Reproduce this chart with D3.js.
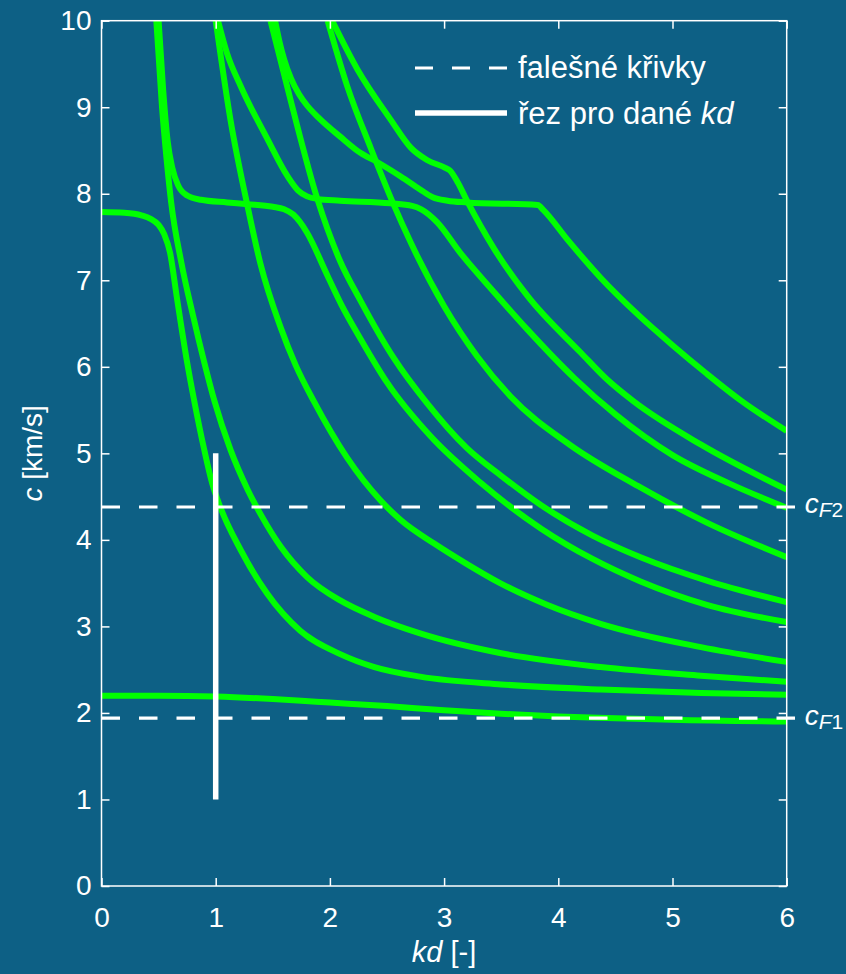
<!DOCTYPE html>
<meta charset="utf-8">
<style>
  body { margin: 0; background: #0d6085; }
  svg text { font-family: "Liberation Sans", Arial, Helvetica, sans-serif; fill: #fff; }
  .axis line { stroke: #fff; stroke-width: 1.5; }
  .axis text { font-size: 28px; }
</style>
<script src="https://d3js.org/d3.v7.min.js"></script>
<div id="chart"></div>
<script>
// tick values
var xTicks = [0, 1, 2, 3, 4, 5, 6];
var yTicks = [0, 1, 2, 3, 4, 5, 6, 7, 8, 9, 10];

// dispersion curves, [kd, c]
var curveBase = [[0,2.2],[0.5,2.2],[1,2.19],[1.5,2.16],[1.75,2.14],[2,2.12],[2.5,2.08],[3,2.03],[3.5,1.99],[4,1.96],[4.5,1.94],[5,1.92],[6,1.9]];
var curveA = [[0,7.79],[0.2,7.78],[0.35,7.75],[0.43,7.71],[0.5,7.64],[0.55,7.53],[0.6,7.32],[0.66,6.8],[0.75,6.05],[0.81,5.62],[0.9,5.04],[0.97,4.65],[1.04,4.38],[1.22,3.88],[1.45,3.38],[1.74,2.95],[2.09,2.68],[2.39,2.53],[2.79,2.42],[3.5,2.33],[4.37,2.27],[5.25,2.23],[6,2.21]];
var curveB = [[0.48,10],[0.53,9.0],[0.57,8.4],[0.61,7.9],[0.7,7.2],[0.8,6.6],[0.9,6.05],[0.99,5.6],[1.13,5.04],[1.28,4.58],[1.4,4.28],[1.57,3.92],[1.8,3.57],[2.09,3.3],[2.39,3.11],[2.79,2.92],[3.5,2.69],[4.37,2.53],[5.25,2.43],[6,2.36]];
var curveC = [[0.5,10],[0.54,9.2],[0.58,8.6],[0.62,8.3],[0.67,8.1],[0.75,7.98],[0.87,7.93],[1.1,7.9],[1.28,7.88],[1.5,7.85],[1.6,7.82],[1.68,7.76],[1.74,7.67],[1.8,7.55],[1.98,7.05],[2.1,6.72],[2.27,6.32],[2.5,5.82],[2.88,5.2],[3.32,4.66],[3.85,4.13],[4.3,3.78],[4.72,3.52],[5.3,3.25],[6,3.05]];
var curveD = [[1.0,10],[1.13,8.85],[1.28,7.85],[1.39,7.2],[1.57,6.45],[1.7,6.02],[1.86,5.6],[2.15,4.95],[2.44,4.46],[2.62,4.23],[2.91,3.96],[3.2,3.72],[3.49,3.5],[3.9,3.25],[4.37,3.03],[5.25,2.76],[6,2.59]];
var curveE = [[1.02,10],[1.1,9.62],[1.22,9.24],[1.45,8.64],[1.63,8.2],[1.72,8.04],[1.8,7.97],[1.89,7.94],[2.09,7.92],[2.53,7.89],[2.72,7.86],[2.8,7.82],[2.94,7.67],[3.14,7.32],[3.44,6.86],[3.73,6.43],[4.14,5.87],[4.5,5.45],[5.0,4.98],[5.5,4.65],[6,4.37]];
var curveF = [[1.48,10],[1.66,9.06],[1.89,7.94],[2.09,7.22],[2.27,6.76],[2.56,6.1],[2.85,5.58],[3.2,5.06],[3.5,4.74],[3.85,4.4],[4.3,4.05],[4.72,3.8],[5.3,3.53],[6,3.28]];
var curveG = [[1.52,10],[1.56,9.75],[1.6,9.55],[1.66,9.33],[1.73,9.15],[1.8,9.02],[1.9,8.88],[2.09,8.66],[2.27,8.47],[2.41,8.37],[2.62,8.2],[2.79,8.05],[2.9,7.96],[3.03,7.92],[3.2,7.9],[3.82,7.87],[3.87,7.81],[4.08,7.47],[4.37,7.03],[4.7,6.6],[5.0,6.25],[5.3,5.92],[5.6,5.61],[6,5.26]];
var curveH = [[1.98,10],[2.15,9.25],[2.36,8.52],[2.55,7.9],[2.71,7.43],[3.0,6.7],[3.29,6.12],[3.58,5.66],[4.1,5.1],[4.7,4.62],[5.3,4.2],[6,3.8]];
var curveI = [[2.02,10],[2.24,9.44],[2.53,8.86],[2.71,8.53],[2.85,8.39],[3.01,8.3],[3.05,8.27],[3.12,8.13],[3.2,7.92],[3.44,7.36],[3.73,6.82],[4.2,6.16],[4.43,5.85],[4.66,5.6],[5.25,5.1],[6,4.58]];

// false curves (dashed) and the cut at a given kd
var falseLevels = [1.94, 4.38];
var falseNames = ["F1", "F2"];
var cutKd = 1;
var cutRange = [1, 5];

var curves = [curveBase, curveA, curveB, curveC, curveD, curveE, curveF, curveG, curveH, curveI];

var W = 846, H = 974;
var margin = {top: 20.7, right: 59.3, bottom: 88, left: 101.5},
    width = W - margin.left - margin.right,
    height = H - margin.top - margin.bottom;

var svg = d3.select("#chart").append("svg")
    .attr("width", W).attr("height", H)
    .style("background", "#0d6085");

var g = svg.append("g")
    .attr("transform", "translate(" + margin.left + "," + margin.top + ")");

var x = d3.scaleLinear().domain([0, 6]).range([0, width]);
var y = d3.scaleLinear().domain([0, 10]).range([height, 0]);

g.append("clipPath").attr("id", "clip")
  .append("rect").attr("width", width).attr("height", height);

var line = d3.line()
    .x(function(d) { return x(d[0]); })
    .y(function(d) { return y(d[1]); })
    .curve(d3.curveMonotoneX);

g.append("g").attr("clip-path", "url(#clip)")
  .selectAll("path")
  .data(curves)
  .enter().append("path")
    .attr("d", line)
    .attr("fill", "none")
    .attr("stroke", "#00ff00")
    .attr("stroke-width", 6)
    .attr("stroke-linejoin", "round");

// dashed lines
g.selectAll(".fline")
  .data(falseLevels)
  .enter().append("line")
    .attr("x1", x(0)).attr("x2", x(6.08))
    .attr("y1", function(d) { return y(d); })
    .attr("y2", function(d) { return y(d); })
    .attr("stroke", "#fff")
    .attr("stroke-width", 3.2)
    .attr("stroke-dasharray", "18.5,19");

falseLevels.forEach(function(v, i) {
  var t = g.append("text")
      .attr("x", width + 18)
      .attr("y", y(v) + 6.5)
      .style("font-size", "28px");
  t.append("tspan").style("font-style", "italic").text("c");
  t.append("tspan").attr("dy", 4).style("font-size", "21px").style("font-style", "italic").text(falseNames[i][0]);
  t.append("tspan").style("font-size", "21px").text(falseNames[i][1]);
});

// cut for the given kd
g.append("line")
    .attr("x1", x(cutKd)).attr("x2", x(cutKd))
    .attr("y1", y(cutRange[0])).attr("y2", y(cutRange[1]))
    .attr("stroke", "#fff")
    .attr("stroke-width", 5.5);

// axes with ticks pointing inwards on all four sides
g.append("g").attr("class", "axis")
    .attr("transform", "translate(0," + height + ")")
    .call(d3.axisBottom(x).tickValues(xTicks).tickFormat(d3.format("d")).tickSizeInner(-8).tickSizeOuter(0).tickPadding(20.8))
    .select(".domain").remove();
g.append("g").attr("class", "axis")
    .call(d3.axisTop(x).tickValues(xTicks).tickSizeInner(-8).tickSizeOuter(0).tickFormat(""))
    .select(".domain").remove();
g.append("g").attr("class", "axis")
    .call(d3.axisLeft(y).tickValues(yTicks).tickFormat(d3.format("d")).tickSizeInner(-8).tickSizeOuter(0).tickPadding(10))
    .select(".domain").remove();
g.append("g").attr("class", "axis")
    .attr("transform", "translate(" + width + ",0)")
    .call(d3.axisRight(y).tickValues(yTicks).tickSizeInner(-8).tickSizeOuter(0).tickFormat(""))
    .select(".domain").remove();

g.append("rect")
    .attr("width", width).attr("height", height)
    .attr("fill", "none")
    .attr("stroke", "#fff")
    .attr("stroke-width", 1.5);

// axis titles
var xt = svg.append("text")
    .attr("x", margin.left + width / 2)
    .attr("y", 962)
    .attr("text-anchor", "middle")
    .style("font-size", "29px");
xt.append("tspan").style("font-style", "italic").text("kd");
xt.append("tspan").text(" [-]");

var yt = svg.append("text")
    .attr("transform", "translate(42," + (margin.top + height / 2) + ") rotate(-90)")
    .attr("text-anchor", "middle")
    .style("font-size", "28px");
yt.append("tspan").style("font-style", "italic").text("c");
yt.append("tspan").text(" [km/s]");

// legend
var lg = svg.append("g");
lg.append("line")
    .attr("x1", 415).attr("x2", 507).attr("y1", 68).attr("y2", 68)
    .attr("stroke", "#fff").attr("stroke-width", 3.2)
    .attr("stroke-dasharray", "18,19");
lg.append("text").attr("x", 518).attr("y", 78)
    .style("font-size", "31px").text("falešné křivky");
lg.append("line")
    .attr("x1", 415).attr("x2", 507).attr("y1", 113).attr("y2", 113)
    .attr("stroke", "#fff").attr("stroke-width", 5.5);
var l2 = lg.append("text").attr("x", 518).attr("y", 124)
    .style("font-size", "31px");
l2.append("tspan").text("řez pro dané ");
l2.append("tspan").style("font-style", "italic").text("kd");
</script>
